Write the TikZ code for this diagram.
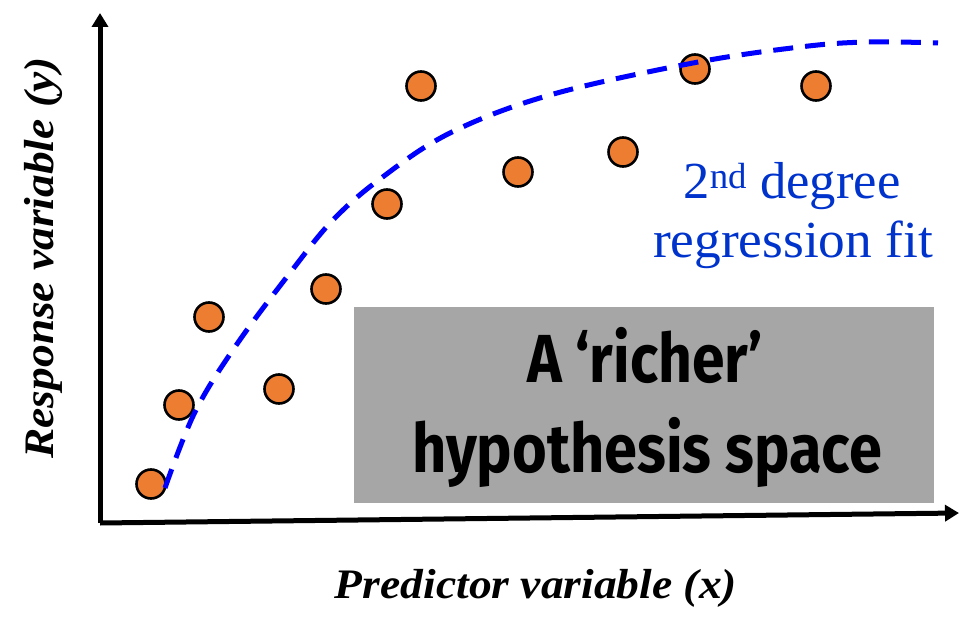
\documentclass[tikz,border=0pt]{standalone}
\usepackage{fontspec}
\setmainfont{Liberation Serif}
\newfontfamily\handfont{Fira Sans}
\usetikzlibrary{arrows.meta}
\definecolor{dotorange}{HTML}{ED7D31}
\definecolor{boxgray}{HTML}{A6A6A6}
\definecolor{fitblue}{RGB}{0,51,204}
\definecolor{curveblue}{RGB}{0,0,255}
\begin{document}
\begin{tikzpicture}[x=1pt,y=-1pt,
  dot/.style={circle, fill=dotorange, draw=black, line width=2.6pt, minimum size=29pt, inner sep=0pt},
  axisline/.style={line width=5pt, -{Triangle[length=14pt,width=16pt]}},
  fitcurve/.style={curveblue, line width=5pt, dash pattern=on 20pt off 12pt},
  axislabel/.style={font=\fontsize{42}{46}\selectfont\bfseries\itshape, inner sep=0pt},
  fitlabel/.style={text=fitblue, font=\fontsize{52}{60}\selectfont, inner sep=0pt, anchor=base},
  handlabel/.style={font=\fontsize{68}{80}\handfont\bfseries, inner sep=0pt, anchor=base},
  hypbox/.style={fill=boxgray, draw=none}]
\useasboundingbox (0,0) rectangle (977,631);
% gray box
\node[hypbox, minimum width=580pt, minimum height=196pt, inner sep=0pt] (box) at (644,405) {};
\node[handlabel] (h1) at (645,382) {\resizebox{236pt}{\height}{A ‘richer’}};
\node[handlabel] (h2) at (647,472) {\resizebox{470pt}{\height}{hypothesis space}};
% axes
\coordinate (O) at (100,523);
\coordinate (ytip) at (100,13);
\coordinate (xtip) at (959,513);
\draw[axisline] (O) -- (ytip);
\draw[axisline] (O) -- (xtip);
% axis labels
\node[axislabel, anchor=base] (xl) at (536,598) {\resizebox{402pt}{\height}{Predictor variable (x)}};
\node[axislabel, rotate=90, anchor=base] (yl) at (53,258) {\resizebox{401pt}{\height}{Response variable (y)}};
% data points
\node[dot] (p1) at (151,484) {};
\node[dot] (p2) at (179,405) {};
\node[dot] (p3) at (209,317) {};
\node[dot] (p4) at (279,389) {};
\node[dot] (p5) at (326,289) {};
\node[dot] (p6) at (387,204) {};
\node[dot] (p7) at (421,86) {};
\node[dot] (p8) at (518,172) {};
\node[dot] (p9) at (623,152) {};
\node[dot] (p10) at (695,69) {};
\node[dot] (p11) at (816,86) {};
% fit curve
\draw[fitcurve] plot[smooth, tension=0.6] coordinates {(165,488) (195,412) (237,344) (293,269) (333,220) (380,179) (450,133) (550,95) (693,63) (800,47) (867,42) (938,43)};
% fit label
\node[fitlabel] (f1) at (792,198) {\resizebox{217pt}{\height}{2\textsuperscript{nd} degree}};
\node[fitlabel] (f2) at (793,257) {\resizebox{280pt}{\height}{regression fit}};
\end{tikzpicture}
\end{document}
